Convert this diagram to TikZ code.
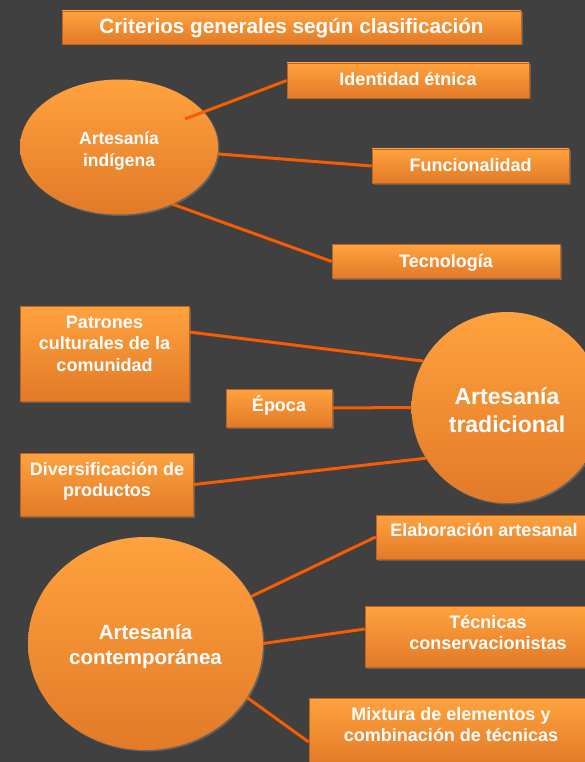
\documentclass[tikz,border=0pt]{standalone}
\usepackage{fontspec}
\setmainfont{Liberation Sans}
\usetikzlibrary{shapes.geometric,shadows}

\definecolor{fondo}{RGB}{64,64,64}
\definecolor{naranja}{RGB}{255,162,62}
\definecolor{naranjaosc}{RGB}{226,122,40}
\definecolor{borde}{RGB}{190,100,32}
\definecolor{enlace}{RGB}{246,92,4}

\begin{document}
\begin{tikzpicture}[x=1pt, y=-1pt,
    caja/.style={rectangle, top color=naranja, bottom color=naranjaosc, draw=borde, line width=0.6pt,
        drop shadow={opacity=0.55, shadow xshift=1.5pt, shadow yshift=-1.5pt},
        text=white, align=center, inner sep=0pt, font=\bfseries\fontsize{18}{21.5}\selectfont},
    uno/.style={text height=11pt, text depth=0pt},
    nube/.style={ellipse, top color=naranja, bottom color=naranjaosc,
        drop shadow={opacity=0.55, shadow xshift=1.5pt, shadow yshift=-1.5pt}, inner sep=0pt},
    letra/.style={text=white, align=center, inner sep=0pt, font=\bfseries\fontsize{18}{21.5}\selectfont},
    linea/.style={draw=enlace, line width=3pt}]
    % Background and frame
    \useasboundingbox (0,0) rectangle (585,762);
    \clip (0,0) rectangle (585,762);
    \fill[fondo] (0,0) rectangle (585,762);
    % Title
    \node[caja, text height=13pt, text depth=0pt, minimum width=459pt, minimum height=33pt,
        font=\bfseries\fontsize{20.7}{24}\selectfont]
        (titulo) at (291.5,27.5) {Criterios generales según clasificación};
    % Artesania indigena
    \node[nube, minimum width=198pt, minimum height=135pt] (indigena) at (119,147) {};
    \node[letra, font=\bfseries\fontsize{17.5}{22}\selectfont] (indigenatxt)
        at ([yshift=-4pt]indigena.center) {Artesanía\\indígena};
    \node[caja, uno, minimum width=242pt, minimum height=35pt] (identidad) at (408,80.5) {Identidad étnica};
    \node[caja, uno, minimum width=197pt, minimum height=34pt] (funcion) at (470.5,166) {Funcionalidad};
    \node[caja, uno, minimum width=228pt, minimum height=34pt] (tecnologia) at (446,261.5) {Tecnología};
    % Artesania tradicional
    \node[caja, minimum width=169pt, minimum height=95pt] (patrones) at (104.5,353.5) {};
    \node[letra] (patronestxt) at ([yshift=10pt]patrones.center) {Patrones\\culturales de la\\comunidad};
    \node[caja, uno, text height=6pt, minimum width=106pt, minimum height=38pt] (epoca) at (279,408) {Época};
    \node[caja, minimum width=173.5pt, minimum height=63pt] (diversif) at (107,484.5) {};
    \node[letra] (diversiftxt) at ([yshift=3pt]diversif.center) {Diversificación de\\productos};
    \node[nube, minimum width=191pt, minimum height=191pt] (tradicional) at (507,407.5) {};
    \node[letra, font=\bfseries\fontsize{23}{28}\selectfont] (tradicionaltxt)
        at ([yshift=-2.5pt]tradicional.center) {Artesanía\\tradicional};
    % Artesania contemporanea
    \node[nube, minimum width=235pt, minimum height=213pt] (contemp) at (145.5,643.5) {};
    \node[letra, font=\bfseries\fontsize{20.5}{25}\selectfont] (contemptxt)
        at ([yshift=-3.5pt]contemp.center) {Artesanía\\contemporánea};
    \node[caja, minimum width=216pt, minimum height=44pt] (elabora) at (484,537) {};
    \node[letra] (elaboratxt) at ([yshift=7pt]elabora.center) {Elaboración artesanal};
    \node[caja, minimum width=246pt, minimum height=61pt] (tecnicas) at (488,636.5) {};
    \node[letra] (tecnicastxt) at ([yshift=4pt]tecnicas.center) {Técnicas\\conservacionistas};
    \node[caja, minimum width=284pt, minimum height=68pt] (mixtura) at (451,732) {};
    \node[letra] (mixturatxt) at ([yshift=7.5pt]mixtura.center) {Mixtura de elementos y\\combinación de técnicas};
    % Connectors
    \coordinate (indA) at (185,119);
    \draw[linea] (indA) -- (identidad.west);
    \draw[linea] (indigena.-4) -- (funcion.west);
    \draw[linea] (indigena.-47) -- (tecnologia.west);
    \draw[linea] ([yshift=21.5pt]patrones.east) -- (tradicional.151);
    \draw[linea] (epoca.east) -- (tradicional.west);
    \draw[linea] (diversif.east) -- (tradicional.212);
    \draw[linea] (contemp.24) -- (elabora.west);
    \draw[linea] (contemp.east) -- ([yshift=7.5pt]tecnicas.west);
    \draw[linea] (contemp.-28) -- ([yshift=-10pt]mixtura.west);
\end{tikzpicture}
\end{document}
